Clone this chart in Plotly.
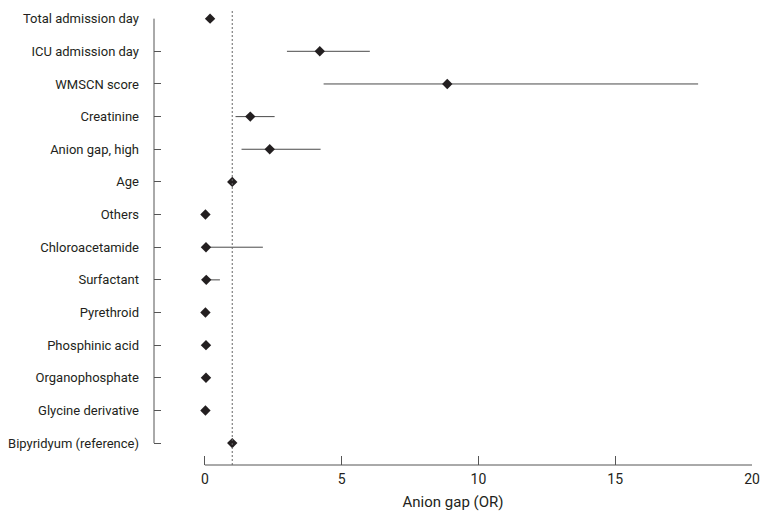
import plotly.graph_objects as go

categories = ["Total admission day", "ICU admission day", "WMSCN score", "Creatinine",
              "Anion gap, high", "Age", "Others", "Chloroacetamide", "Surfactant",
              "Pyrethroid", "Phosphinic acid", "Organophosphate", "Glycine derivative",
              "Bipyridyum (reference)"]
odds_ratio = [0.19, 4.20, 8.86, 1.66, 2.37, 1.00, 0.02, 0.04, 0.05, 0.02, 0.04, 0.04, 0.02, 1.00]
ci_lower   = [0.19, 3.00, 4.34, 1.12, 1.34, 1.00, 0.02, 0.04, 0.05, 0.02, 0.04, 0.04, 0.02, 1.00]
ci_upper   = [0.19, 6.03, 18.03, 2.55, 4.23, 1.00, 0.02, 2.12, 0.55, 0.02, 0.04, 0.04, 0.02, 1.00]
x_ticks = [0, 5, 10, 15, 20]
ref_line = 1

ypos = list(range(len(categories)))
err_plus = [u - o for u, o in zip(ci_upper, odds_ratio)]
err_minus = [o - l for o, l in zip(odds_ratio, ci_lower)]

FONT = "Roboto, Liberation Sans, sans-serif"
INK = "#231f20"

fig = go.Figure()
fig.add_trace(go.Scatter(
    x=odds_ratio, y=ypos, mode="markers",
    marker=dict(symbol="diamond", size=8, color=INK),
    error_x=dict(type="data", symmetric=False, array=err_plus, arrayminus=err_minus,
                 thickness=1, width=0, color="#4a4a4a"),
    cliponaxis=False, showlegend=False, hoverinfo="skip"))

n = len(categories)
fig.update_layout(
    width=755, height=505,
    margin=dict(l=146, r=11, t=10, b=48),
    paper_bgcolor="white", plot_bgcolor="white",
    font=dict(family=FONT, size=13, color=INK),
    xaxis=dict(range=[-1.86, 20.0], tickvals=x_ticks, ticktext=[str(t) for t in x_ticks],
               ticks="inside", ticklen=9, tickcolor="#555", tickwidth=1,
               showline=False, showgrid=False, zeroline=False, automargin=False,
               ticklabelstandoff=4,
               title=dict(text="Anion gap (OR)", standoff=10, font=dict(size=15)),
               tickfont=dict(size=14)),
    yaxis=dict(range=[n - 1 + 0.67, -0.02], tickvals=ypos, ticktext=categories,
               ticks="inside", ticklen=7, tickcolor="#555", tickwidth=1,
               showline=False, showgrid=False, zeroline=False, automargin=False,
               ticklabelstandoff=14, tickfont=dict(size=13)),
)
fig.add_shape(type="line", xref="x", yref="paper", x0=x_ticks[0], x1=x_ticks[-1], y0=0, y1=0,
              line=dict(color="#555", width=1))
fig.add_shape(type="line", xref="paper", yref="y", x0=0, x1=0, y0=0, y1=n - 1,
              line=dict(color="#555", width=1))
fig.add_shape(type="line", xref="x", yref="paper", x0=ref_line, x1=ref_line, y0=0, y1=1.02,
              line=dict(color="#666", width=1, dash="2px,2px"))

fig.write_html("out.html")
